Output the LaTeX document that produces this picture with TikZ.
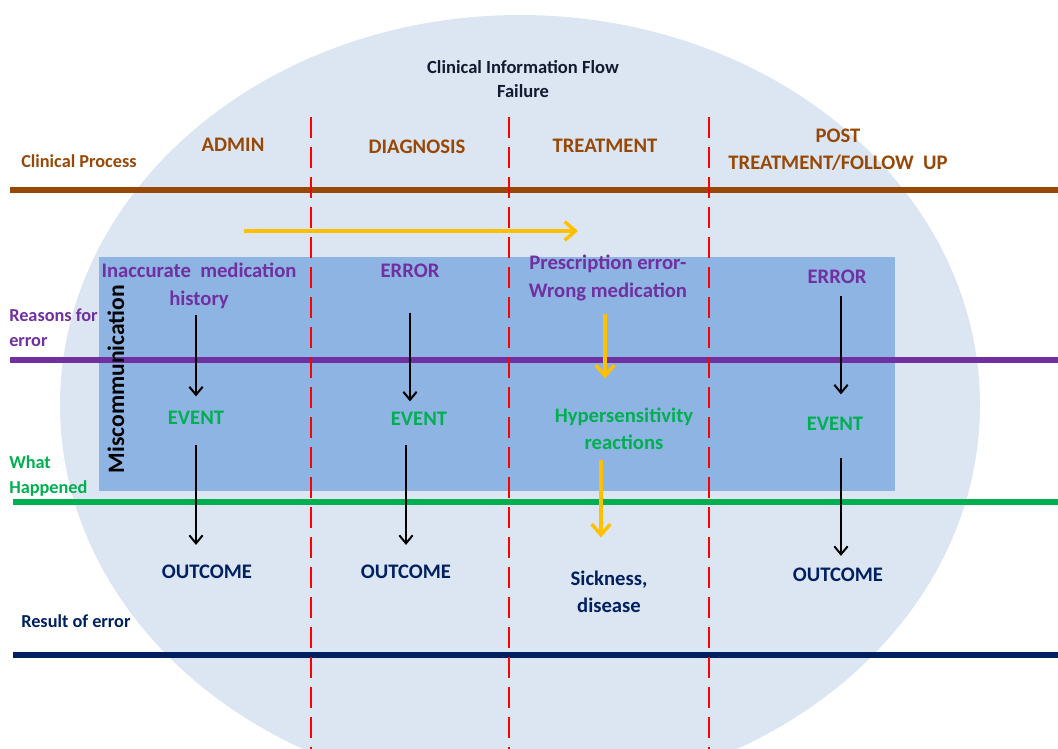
\documentclass[tikz,border=0pt]{standalone}
\usepackage{fontspec}
\setmainfont{Carlito}
\usetikzlibrary{arrows.meta}

\definecolor{procbrown}{HTML}{974806}
\definecolor{errpurple}{HTML}{7030A0}
\definecolor{evgreen}{HTML}{00B050}
\definecolor{resnavy}{HTML}{002060}
\definecolor{titleink}{HTML}{121A30}
\definecolor{ovalblue}{HTML}{DCE6F2}
\definecolor{boxblue}{HTML}{8EB4E3}
\definecolor{flowgold}{HTML}{FFC000}

\tikzset{
  sidelbl/.style={font=\bfseries\fontsize{13.7}{18.7}\selectfont, align=left, anchor=west, inner sep=0pt},
  item/.style={font=\bfseries\fontsize{15.5}{20.5}\selectfont, align=center, inner sep=0pt},
  band/.style={line width=5.2pt},
  phase/.style={red, line width=1.9pt, dash pattern=on 15.75pt off 6.75pt},
  cause/.style={black, line width=1.5pt, -{Straight Barb[length=6pt,width=10pt]}},
  rxflow/.style={flowgold, line width=2.6pt, -{Straight Barb[length=8pt,width=14pt]}},
}

\begin{document}
\begin{tikzpicture}[x=0.75pt,y=-0.75pt]
  \useasboundingbox (0,0) rectangle (1058,749);
  \clip (0,0) rectangle (1058,749);

  % background shapes
  \fill[ovalblue] (520,405) ellipse [x radius=460, y radius=390];
  \fill[boxblue] (99,257) rectangle (895,491);

  % level lines
  \draw[band, procbrown] (10,190) -- (1058,190);
  \draw[band, errpurple] (10,360) -- (1058,360);
  \draw[band, evgreen] (13,502) -- (1058,502);
  \draw[band, resnavy] (13,655) -- (1058,655);

  % phase boundaries
  \foreach \x in {311,509,709}
    \draw[phase] (\x,117) -- (\x,760);

  % titles and side labels
  \node[font=\bfseries\fontsize{13.9}{18}\selectfont, align=center, inner sep=0pt, text=titleink]
    (title) at (523,79) {Clinical Information Flow\\Failure};
  \node[sidelbl, text=procbrown] (process) at (21,161) {Clinical Process};
  \node[sidelbl, text=errpurple] (reasons) at (9,328) {Reasons for\\error};
  \node[sidelbl, text=evgreen] (happened) at (9,476) {What\\Happened};
  \node[sidelbl, text=resnavy] (result) at (21,621) {Result of error};

  % phases
  \node[item, text=procbrown] (admin) at (233,145) {ADMIN};
  \node[item, text=procbrown] (diag) at (417,147) {DIAGNOSIS};
  \node[item, text=procbrown] (treat) at (605,146) {TREATMENT};
  \node[item, text=procbrown] (post) at (838,150) {POST\\TREATMENT/FOLLOW\ \ UP};

  \node[font=\bfseries\fontsize{17.7}{20}\selectfont, rotate=90, inner sep=0pt]
    (miscomm) at (116,379) {Miscommunication};

  % reasons
  \node[item, text=errpurple] (hist) at (199,286) {Inaccurate\ \ medication\\history};
  \node[item, text=errpurple] (err1) at (410,271) {ERROR};
  \node[item, text=errpurple] (presc) at (608,278) {Prescription error-\\Wrong medication};
  \node[item, text=errpurple] (err2) at (837,277) {ERROR};

  % events
  \node[item, text=evgreen] (ev1) at (196,418) {EVENT};
  \node[item, text=evgreen] (ev2) at (419,419) {EVENT};
  \node[item, text=evgreen] (hyper) at (624,429) {Hypersensitivity\\reactions};
  \node[item, text=evgreen] (ev3) at (835,424) {EVENT};

  % results
  \node[item, text=resnavy] (out1) at (207,572) {OUTCOME};
  \node[item, text=resnavy] (out2) at (406,572) {OUTCOME};
  \node[item, text=resnavy] (sick) at (609,592) {Sickness,\\disease};
  \node[item, text=resnavy] (out3) at (838,575) {OUTCOME};

  % information flow
  \coordinate (flowstart) at (244,231);
  \coordinate (flowend) at (578,231);
  \draw[rxflow] (flowstart) -- (flowend);

  % connectors
  \draw[cause, shorten <=5pt, shorten >=11pt] (hist.south -| ev1) -- (ev1.north);
  \draw[cause, shorten <=15pt, shorten >=15pt] (ev1.south) -- (ev1 |- out1.north);
  \draw[cause, shorten <=26pt, shorten >=8pt] (err1.south) -- (err1 |- ev2.north);
  \draw[cause, shorten <=14pt, shorten >=15pt] (ev2.south -| out2) -- (out2.north);
  \draw[rxflow, shorten <=10pt, shorten >=22pt] (presc.south -| 605,0) -- (605,0 |- hyper.north);
  \draw[rxflow, shorten <=7pt, shorten >=25pt] (hyper.south -| 601,0) -- (601,0 |- sick.north);
  \draw[cause, shorten <=9pt, shorten >=17pt] (err2.south -| 841,0) -- (841,0 |- ev3.north);
  \draw[cause, shorten <=20pt, shorten >=9pt] (ev3.south -| 841,0) -- (841,0 |- out3.north);
\end{tikzpicture}
\end{document}
